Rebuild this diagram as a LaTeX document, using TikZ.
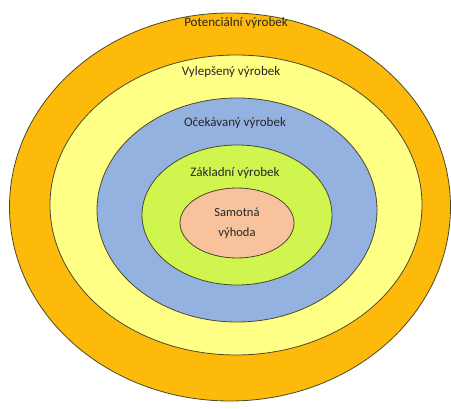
\documentclass[tikz,border=0pt]{standalone}
\usepackage{fontspec}
\setmainfont{Carlito}
\usetikzlibrary{shapes.geometric}
\definecolor{cOrange}{HTML}{FDBA0A}
\definecolor{cYellow}{HTML}{FFFF85}
\definecolor{cBlue}{HTML}{93B2E0}
\definecolor{cGreen}{HTML}{CFF54E}
\definecolor{cSalmon}{HTML}{F8C29C}
\definecolor{cLine}{HTML}{4A4A2A}
\tikzset{
  ring/.style={ellipse, draw=cLine, line width=0.8pt, inner sep=0pt},
  lbl/.style={font=\fontsize{13}{15}\selectfont, text=black!85, inner sep=0pt},
}
\begin{document}
\begin{tikzpicture}[x=1pt,y=-1pt]
\useasboundingbox (0,0) rectangle (451,409);
\node[ring, fill=cOrange, minimum width=441pt, minimum height=388pt] (potencialni) at (230,207) {};
\node[ring, fill=cYellow, minimum width=372pt, minimum height=300pt] (vylepseny) at (236,205) {};
\node[ring, fill=cBlue, minimum width=280pt, minimum height=224pt] (ocekavany) at (237,210) {};
\node[ring, fill=cGreen, minimum width=190pt, minimum height=140pt] (zakladni) at (237,215) {};
\node[ring, fill=cSalmon, minimum width=114pt, minimum height=70pt] (samotna) at (237,223) {};
\node[lbl] (tPot) at (236,23) {Potenciální výrobek};
\node[lbl] (tVyl) at (231,72) {Vylepšený výrobek};
\node[lbl] (tOce) at (235,123) {Očekávaný výrobek};
\node[lbl] (tZak) at (235,173) {Základní výrobek};
\node[lbl, align=center, font=\fontsize{12.5}{20}\selectfont] (tSam) at (237,223) {Samotná\\výhoda};
\end{tikzpicture}
\end{document}
